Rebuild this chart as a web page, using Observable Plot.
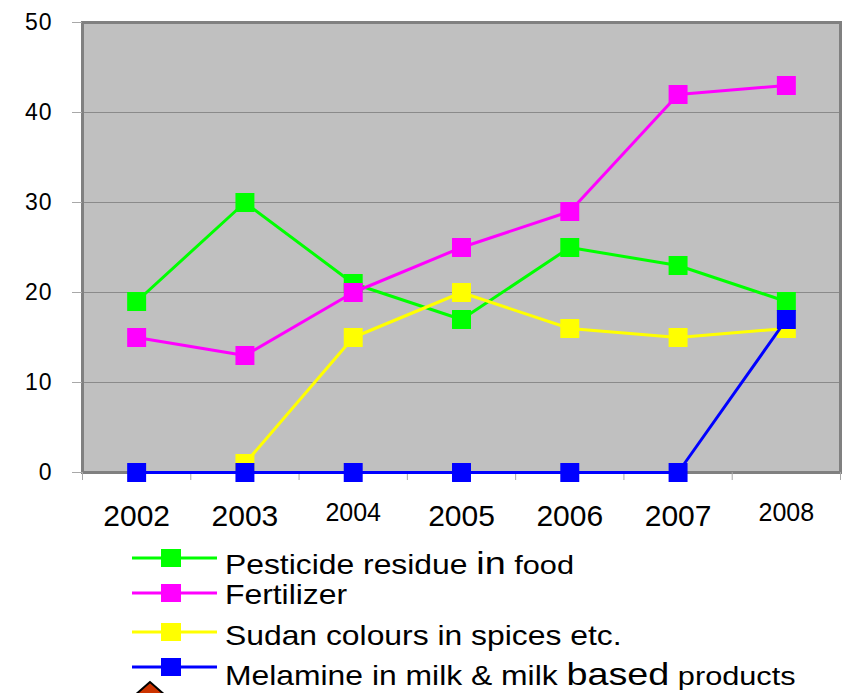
<!DOCTYPE html>
<html>
<head>
<meta charset="utf-8">
<script src="https://cdn.jsdelivr.net/npm/d3@7"></script>
<script src="https://cdn.jsdelivr.net/npm/@observablehq/plot@0.6"></script>
<style>
  body { margin: 0; background: #fff; font-family: "Liberation Sans", Arial, sans-serif; }
  #chart { position: relative; width: 842px; height: 693px; overflow: hidden; }
  #chart svg { display: block; }
  #legend { position: absolute; left: 0; top: 540px; }
  g[aria-label="y-axis tick label"] text { letter-spacing: 1px; }
</style>
</head>
<body>
<div id="chart"></div>
<script>
// ---- data ----
const years = ["2002", "2003", "2004", "2005", "2006", "2007", "2008"];
const smallYearLabels = ["2004", "2008"];
const pesticide = [19, 30, 21, 17, 25, 23, 19];
const fertilizer = [15, 13, 20, 25, 29, 42, 43];
const sudan = [null, 1, 15, 20, 16, 15, 16];
const melamine = [0, 0, 0, 0, 0, 0, 17];
const yTicks = [0, 10, 20, 30, 40, 50];
const seriesNames = ["Pesticide residue in food", "Fertilizer", "Sudan colours in spices etc.", "Melamine in milk & milk based products"];
const seriesValues = [pesticide, fertilizer, sudan, melamine];
const seriesColors = ["#00ff00", "#ff00ff", "#ffff00", "#0000ff"];
// legend labels split in runs of differing font size
const legendRuns = [
  [["Pesticide residue ", 27], ["in", 32], [" food", 26]],
  [["Fertilizer", 27]],
  [["Sudan colours in spices etc.", 27]],
  [["Melamine in milk & milk ", 27], ["based", 32], [" products", 26]]
];

// ---- layout ----
const W = 842, H = 540, ML = 82, MR = 2, MT = 22, MB = 68;

const rows = [];
seriesValues.forEach((vals, k) => {
  vals.forEach((v, i) => {
    if (v != null) rows.push({k, idx: i, value: v});
  });
});
const yearRows = years.map((y, i) => ({label: y, idx: i}));

const marks = [
  Plot.frame({fill: "#c0c0c0"}),
  Plot.ruleY(yTicks.filter(d => d > 0), {stroke: "#8a8a8a", strokeWidth: 1}),
  Plot.frame({stroke: "#808080", strokeWidth: 3}),
  Plot.axisY(yTicks, {label: null, tickSize: 10, tickPadding: 20, stroke: "#a8a8a8", fill: "black", fontSize: 23}),
  Plot.axisX(d3.range(years.length + 1).map(i => i - 0.5), {label: null, tickSize: 8, tickFormat: () => "", stroke: "#a8a8a8"}),
  Plot.text(yearRows.filter(d => !smallYearLabels.includes(d.label)), {
    x: "idx", text: "label", frameAnchor: "bottom", dy: 44, lineAnchor: "middle", fontSize: 30, fill: "black"
  }),
  Plot.text(yearRows.filter(d => smallYearLabels.includes(d.label)), {
    x: "idx", text: "label", frameAnchor: "bottom", dy: 40, lineAnchor: "middle", fontSize: 25, fill: "black"
  })
];
seriesValues.forEach((_, k) => {
  const data = rows.filter(r => r.k === k);
  marks.push(Plot.line(data, {x: "idx", y: "value", stroke: seriesColors[k], strokeWidth: 3}));
  marks.push(Plot.dot(data, {x: "idx", y: "value", symbol: "square", r: 10.7, fill: seriesColors[k], stroke: "none"}));
});

const plot = Plot.plot({
  width: W, height: H,
  marginLeft: ML, marginRight: MR, marginTop: MT, marginBottom: MB,
  style: {fontFamily: '"Liberation Sans", Arial, sans-serif', background: "white", overflow: "visible"},
  x: {type: "linear", domain: [-0.5, years.length - 0.5], axis: null},
  y: {domain: [0, 50], axis: null},
  marks
});
document.getElementById("chart").appendChild(plot);

// ---- legend (below the plot svg) ----
const LH = 693 - H;
const legend = d3.select("#chart").append("svg")
  .attr("id", "legend").attr("width", W).attr("height", LH)
  .style("font-family", '"Liberation Sans", Arial, sans-serif');
const lineYs = [18, 53, 92, 127];
const baseYs = [34, 64, 105, 145];
seriesNames.forEach((name, k) => {
  const g = legend.append("g").attr("aria-label", name);
  g.append("line").attr("x1", 132).attr("x2", 217).attr("y1", lineYs[k]).attr("y2", lineYs[k])
    .attr("stroke", seriesColors[k]).attr("stroke-width", 3);
  g.append("rect").attr("x", 161).attr("y", lineYs[k] - 9).attr("width", 20).attr("height", 18)
    .attr("fill", seriesColors[k]);
  const t = g.append("text").attr("transform", `translate(225,${baseYs[k]}) scale(1.18,1)`).attr("fill", "black");
  legendRuns[k].forEach(([s, fs]) => t.append("tspan").attr("font-size", fs).text(s));
});
// decorative shape peeking at the bottom edge
legend.append("polygon")
  .attr("points", `150,${142} 134,${156} 166,${156}`)
  .attr("fill", "#cc3300").attr("stroke", "black").attr("stroke-width", 2);
</script>
</body>
</html>
